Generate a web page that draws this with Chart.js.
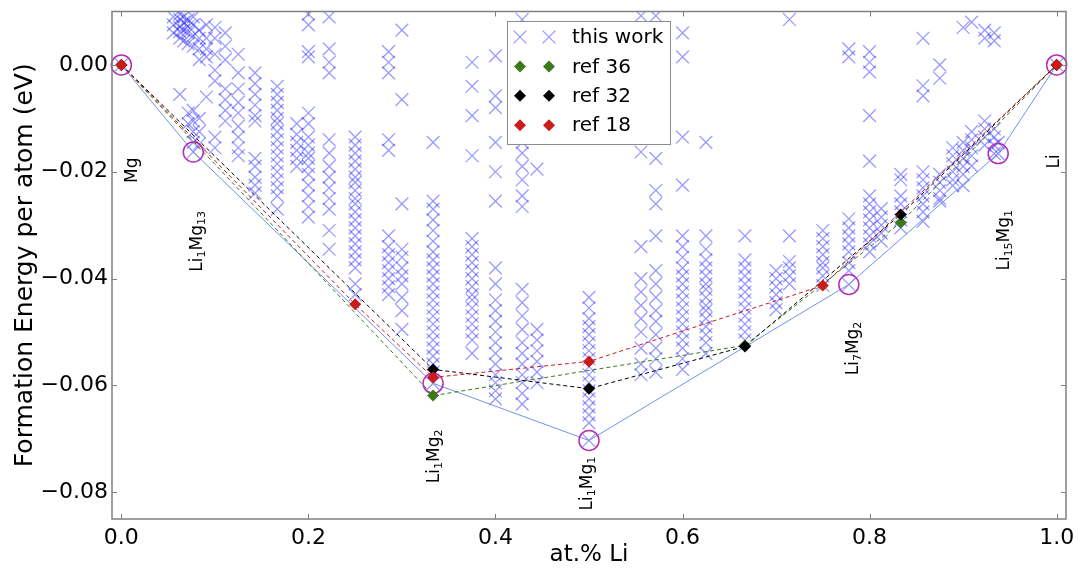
<!DOCTYPE html>
<html>
<head>
<meta charset="utf-8">
<script src="https://cdn.jsdelivr.net/npm/chart.js@4.4.0/dist/chart.umd.min.js"></script>
<style>
  html, body { margin: 0; padding: 0; background: #fff; }
  #wrap { width: 1078px; height: 569px; }
</style>
</head>
<body>
<div id="wrap"><canvas id="myChart"></canvas></div>
<script>
// computed structures: one column per composition (at.% Li), energies in eV/atom
var workX = [0, 0.0556, 0.0625, 0.0667, 0.0714, 0.0769, 0.0833, 0.0909, 0.1, 0.1111, 0.125, 0.1429,
  0.1667, 0.1875, 0.2, 0.2222, 0.25, 0.2857, 0.3, 0.3333, 0.375, 0.4, 0.4286, 0.4444, 0.5,
  0.5556, 0.5714, 0.6, 0.625, 0.6667, 0.7, 0.7143, 0.75, 0.7778, 0.8, 0.8125, 0.8333, 0.8571,
  0.875, 0.8889, 0.9, 0.9091, 0.9231, 0.9333, 0.9375, 1];
var workE = [
  [0],
  [0.009, 0.0075, 0.006],
  [0.0095, 0.0085, 0.007, 0.0062, 0.005, -0.0055],
  [0.009, 0.008, 0.0065, 0.0045],
  [0.0085, 0.0072, 0.006, 0.004, -0.009, -0.011],
  [0.009, 0.0075, 0.0055, 0.0035, -0.0085, -0.0105, -0.0125, -0.0145, -0.0163],
  [0.0065, 0.005, 0.003, 0.001, -0.010, -0.0125, -0.0148],
  [0.0075, 0.005, 0.003, 0.0015, -0.006],
  [0.007, 0.005, 0.002, -0.001, -0.003, -0.0135, -0.0155],
  [0.006, 0.0035, 0.001, -0.0045, -0.0065, -0.0085, -0.0105],
  [0.002, -0.0015, -0.0045, -0.007, -0.009, -0.0115, -0.0135, -0.0155, -0.017],
  [-0.0015, -0.0035, -0.0055, -0.0075, -0.0095, -0.0105, -0.0175, -0.019, -0.021, -0.0225, -0.024],
  [-0.004, -0.0055, -0.007, -0.0085, -0.010, -0.011, -0.0125, -0.014, -0.0155, -0.017, -0.0185, -0.020, -0.0215, -0.023, -0.0245, -0.027],
  [-0.011, -0.013, -0.0145, -0.016, -0.0175, -0.019],
  [0.0095, 0.0075, 0.0025, 0.0015, -0.009, -0.011, -0.0135, -0.015, -0.0165, -0.0175, -0.019, -0.0205, -0.0225, -0.0245, -0.0265, -0.0285],
  [0.009, 0.003, 0.0005, -0.0015, -0.014, -0.0165, -0.019, -0.021, -0.023, -0.025, -0.027, -0.031, -0.0345],
  [-0.0135, -0.015, -0.0165, -0.018, -0.0195, -0.021, -0.022, -0.0235, -0.025, -0.026, -0.0275, -0.029, -0.0305, -0.032, -0.0335, -0.035, -0.0365, -0.038, -0.041, -0.043],
  [0.0025, 0.0005, -0.0015, -0.014, -0.016, -0.032, -0.034, -0.0355, -0.037, -0.0385, -0.040, -0.0415, -0.043],
  [0.0065, -0.0065, -0.026, -0.0345, -0.036, -0.038, -0.0395, -0.041, -0.0435, -0.046, -0.0495],
  [-0.0145, -0.0255, -0.027, -0.029, -0.031, -0.033, -0.035, -0.0365, -0.038, -0.0395, -0.041, -0.0425, -0.044, -0.0455, -0.047, -0.0485, -0.050, -0.0515, -0.053, -0.0545, -0.056, -0.0575, -0.0596],
  [0.0005, -0.004, -0.0095, -0.017, -0.0325, -0.034, -0.0355, -0.037, -0.0385, -0.040, -0.0415, -0.043, -0.044, -0.0455, -0.047, -0.0485, -0.050, -0.0515, -0.054],
  [0.0017, -0.0058, -0.008, -0.0145, -0.020, -0.0255, -0.038, -0.041, -0.044, -0.046, -0.048, -0.050, -0.052, -0.054, -0.056, -0.058, -0.0595, -0.061, -0.0625],
  [0.0085, 0.006, -0.0145, -0.0165, -0.019, -0.0215, -0.0245, -0.0265, -0.042, -0.0445, -0.047, -0.0495, -0.052, -0.054, -0.056, -0.058, -0.0595, -0.0615, -0.0635],
  [-0.0195, -0.0495, -0.0515, -0.0535, -0.0555, -0.0575, -0.0595],
  [-0.0435, -0.0455, -0.0475, -0.049, -0.0505, -0.052, -0.0535, -0.055, -0.0565, -0.058, -0.0595, -0.061, -0.0625, -0.064, -0.0655, -0.067, -0.0703],
  [0.0092, -0.0163, -0.034, -0.040, -0.0425, -0.045, -0.0475, -0.050, -0.053, -0.056, -0.058],
  [0.0092, -0.0175, -0.0235, -0.026, -0.032, -0.0385, -0.041, -0.0435, -0.046, -0.048, -0.0505, -0.053, -0.055, -0.0575],
  [0.006, 0.0015, -0.0135, -0.0225, -0.032, -0.034, -0.036, -0.038, -0.0395, -0.041, -0.0425, -0.044, -0.0455, -0.047, -0.0485, -0.050, -0.0515, -0.053, -0.055, -0.057],
  [-0.0145, -0.032, -0.0345, -0.0365, -0.038, -0.0395, -0.041, -0.042, -0.0435, -0.045, -0.046, -0.0475, -0.049, -0.0505, -0.052, -0.054],
  [-0.032, -0.0365, -0.038, -0.0395, -0.041, -0.0425, -0.044, -0.0455, -0.047, -0.0485, -0.050, -0.0515],
  [-0.0385, -0.040, -0.0415, -0.043, -0.0445, -0.0458],
  [0.0085, -0.032, -0.0368, -0.038, -0.0395, -0.041],
  [-0.031, -0.0325, -0.034, -0.0355, -0.037, -0.038, -0.0395, -0.0413],
  [0.003, 0.0015, -0.0288, -0.0305, -0.032, -0.0335, -0.035, -0.037, -0.0385, -0.0411],
  [0.0025, 0.0005, -0.0013, -0.0095, -0.018, -0.0245, -0.026, -0.0275, -0.029, -0.0305, -0.032, -0.0335, -0.035],
  [-0.0269, -0.0285, -0.030, -0.0315, -0.033],
  [-0.0205, -0.0215, -0.0245, -0.026, -0.0275, -0.029, -0.0305],
  [0.005, -0.0039, -0.0058, -0.020, -0.0215, -0.023, -0.0245, -0.026, -0.0275, -0.0293],
  [0.0, -0.0025, -0.0205, -0.022, -0.0235, -0.025, -0.0255],
  [-0.0155, -0.017, -0.0185, -0.020, -0.0215, -0.0226],
  [0.007, -0.0145, -0.016, -0.0175, -0.019, -0.0205, -0.0226],
  [0.008, -0.0125, -0.014, -0.0155, -0.017, -0.0189],
  [0.0065, 0.005, -0.0105, -0.012, -0.0135, -0.015],
  [0.006, 0.0045, -0.012, -0.0135, -0.015, -0.0166],
  [-0.0145, -0.0166],
  [0]
];

// convex hull of this work
var hullX = [0, 0.0769, 0.3333, 0.5, 0.7778, 0.9375, 1];
var hullE = [0, -0.0163, -0.0596, -0.0703, -0.0411, -0.0166, 0];

// literature hulls
var ref36X = [0, 0.3333, 0.6667, 0.8333, 1];
var ref36E = [0, -0.0619, -0.0525, -0.0295, 0];
var ref32X = [0, 0.3333, 0.5, 0.6667, 0.8333, 1];
var ref32E = [0, -0.0570, -0.0606, -0.0527, -0.0280, 0];
var ref18X = [0, 0.25, 0.3333, 0.5, 0.75, 1];
var ref18E = [0, -0.0448, -0.0585, -0.0555, -0.0413, 0];

var xTicks = [0, 0.2, 0.4, 0.6, 0.8, 1.0];
var yTicks = [0, -0.02, -0.04, -0.06, -0.08];

// phase names on the hull, {n} = subscript; anchored where the upward text starts
var phaseNames = ['Mg', 'Li{1}Mg{13}', 'Li{1}Mg{2}', 'Li{1}Mg{1}', 'Li{7}Mg{2}', 'Li{15}Mg{1}', 'Li'];
var phaseAtX = [0.0107, 0.080, 0.3337, 0.497, 0.781, 0.943, 0.9957];
var phaseAtE = [-0.0221, -0.0387, -0.0783, -0.0834, -0.0581, -0.0385, -0.0194];

function pts(xs, ys) {
  return xs.map(function (x, i) { return { x: x, y: ys[i] }; });
}

var workPts = [];
workX.forEach(function (x, i) {
  workE[i].forEach(function (e) { workPts.push({ x: x, y: e }); });
});

var GREEN = '#3a7a1a', RED = '#cc1b1b', BLACK = '#000000';
var FONT = 'DejaVu Sans';

function refSet(label, data, color, order) {
  return {
    label: label,
    data: data,
    showLine: true,
    borderColor: color,
    borderWidth: 1,
    borderDash: [4, 3],
    pointStyle: 'rectRot',
    pointRadius: 6,
    pointBackgroundColor: color,
    pointBorderColor: color,
    pointBorderWidth: 0,
    order: order,
    clip: false
  };
}

var phaseLabels = {
  id: 'phaseLabels',
  afterDatasetsDraw: function (chart) {
    var ctx = chart.ctx, xs = chart.scales.x, ys = chart.scales.y;
    ctx.save();
    ctx.fillStyle = '#000';
    ctx.textBaseline = 'alphabetic';
    ctx.textAlign = 'left';
    phaseNames.forEach(function (name, i) {
      var px = xs.getPixelForValue(phaseAtX[i]);
      var py = ys.getPixelForValue(phaseAtE[i]);
      ctx.save();
      ctx.translate(px, py);
      ctx.rotate(-Math.PI / 2);
      var parts = name.split(/(\{\d+\})/).filter(function (s) { return s.length; });
      var cx = 0;
      parts.forEach(function (p) {
        var sub = p.charAt(0) === '{';
        var t = sub ? p.slice(1, -1) : p;
        ctx.font = (sub ? '11px ' : '17px ') + FONT;
        ctx.fillText(t, cx, sub ? 9 : 6);
        cx += ctx.measureText(t).width;
      });
      ctx.restore();
    });
    ctx.restore();
  }
};

var frameTicks = {
  id: 'frameTicks',
  afterDatasetsDraw: function (chart) {
    var ctx = chart.ctx, a = chart.chartArea, xs = chart.scales.x, ys = chart.scales.y;
    ctx.save();
    ctx.strokeStyle = '#808080';
    ctx.lineWidth = 1.5;
    ctx.strokeRect(a.left, a.top, a.right - a.left, a.bottom - a.top);
    ctx.lineWidth = 1;
    ctx.beginPath();
    xTicks.forEach(function (v) {
      var p = Math.round(xs.getPixelForValue(v)) + 0.5;
      ctx.moveTo(p, a.bottom); ctx.lineTo(p, a.bottom - 5);
      ctx.moveTo(p, a.top); ctx.lineTo(p, a.top + 5);
    });
    yTicks.forEach(function (v) {
      var p = Math.round(ys.getPixelForValue(v)) + 0.5;
      ctx.moveTo(a.left, p); ctx.lineTo(a.left + 5, p);
      ctx.moveTo(a.right, p); ctx.lineTo(a.right - 5, p);
    });
    ctx.stroke();
    ctx.restore();
  }
};

var boxLegend = {
  id: 'boxLegend',
  afterDraw: function (chart) {
    var ctx = chart.ctx;
    var sets = chart.data.datasets.filter(function (d) { return d.label !== 'hull'; });
    ctx.save();
    ctx.fillStyle = '#fff';
    ctx.fillRect(507, 21, 163, 123);
    ctx.strokeStyle = '#8c8c8c';
    ctx.lineWidth = 1;
    ctx.strokeRect(507.5, 21.5, 163, 123);
    sets.forEach(function (d, i) {
      var y = 37 + i * 29.4;
      var opts = { pointStyle: d.pointStyle, radius: d.pointRadius, rotation: 0, borderWidth: d.pointBorderWidth };
      ctx.fillStyle = d.pointBackgroundColor || d.borderColor;
      ctx.strokeStyle = d.pointBorderColor || d.borderColor;
      ctx.lineWidth = d.pointBorderWidth;
      Chart.helpers.drawPoint(ctx, opts, 520, y);
      Chart.helpers.drawPoint(ctx, opts, 549, y);
      ctx.fillStyle = '#000';
      ctx.font = '20px ' + FONT;
      ctx.textBaseline = 'middle';
      ctx.textAlign = 'left';
      ctx.fillText(d.label, 572, y + 1);
    });
    ctx.restore();
  }
};

var options = {
  type: 'scatter',
  data: {
    datasets: [
      {
        label: 'this work',
        data: workPts,
        pointStyle: 'crossRot',
        pointRadius: 9,
        borderColor: 'rgba(30,30,255,0.45)',
        pointBorderColor: 'rgba(30,30,255,0.45)',
        pointBorderWidth: 1.3,
        order: 5,
        clip: 0
      },
      {
        label: 'hull',
        data: pts(hullX, hullE),
        showLine: true,
        borderColor: '#6f93e8',
        borderWidth: 1,
        pointStyle: 'circle',
        pointRadius: 10,
        pointBorderColor: '#b52db5',
        pointBackgroundColor: 'rgba(0,0,0,0)',
        pointBorderWidth: 1.5,
        order: 4,
        clip: false
      },
      refSet('ref 36', pts(ref36X, ref36E), GREEN, 3),
      refSet('ref 32', pts(ref32X, ref32E), BLACK, 2),
      refSet('ref 18', pts(ref18X, ref18E), RED, 1)
    ]
  },
  options: {
    responsive: true,
    maintainAspectRatio: false,
    animation: false,
    layout: { padding: { left: 0, top: 10, right: 12, bottom: 0 } },
    scales: {
      x: {
        type: 'linear',
        min: -0.01,
        max: 1.01,
        grid: { display: false, drawTicks: false },
        border: { display: false },
        afterBuildTicks: function (s) { s.ticks = xTicks.map(function (v) { return { value: v }; }); },
        afterFit: function (s) { s.height = 50; s.paddingLeft = 0; s.paddingRight = 0; },
        ticks: {
          padding: 6,
          color: '#000',
          font: { family: FONT, size: 22 },
          callback: function (v) { return v.toFixed(1); }
        },
        title: {
          display: true,
          text: 'at.% Li',
          color: '#000',
          padding: { top: 0, bottom: 0 },
          font: { family: FONT, size: 23 }
        }
      },
      y: {
        type: 'linear',
        min: -0.085,
        max: 0.01,
        grid: { display: false, drawTicks: false },
        border: { display: false },
        afterBuildTicks: function (s) { s.ticks = yTicks.map(function (v) { return { value: v }; }); },
        afterFit: function (s) { s.width = 112; s.paddingTop = 0; s.paddingBottom = 0; },
        ticks: {
          padding: 4,
          color: '#000',
          font: { family: FONT, size: 22 },
          callback: function (v) { return v.toFixed(2).replace('-', '\u2212'); }
        },
        title: {
          display: true,
          text: 'Formation Energy per atom (eV)',
          color: '#000',
          padding: { top: 10, bottom: 0 },
          font: { family: FONT, size: 25 }
        }
      }
    },
    plugins: {
      legend: { display: false },
      tooltip: { enabled: false }
    }
  },
  plugins: [phaseLabels, frameTicks, boxLegend]
};

var ctx = document.getElementById('myChart').getContext('2d');
new Chart(ctx, options);
</script>
</body>
</html>
